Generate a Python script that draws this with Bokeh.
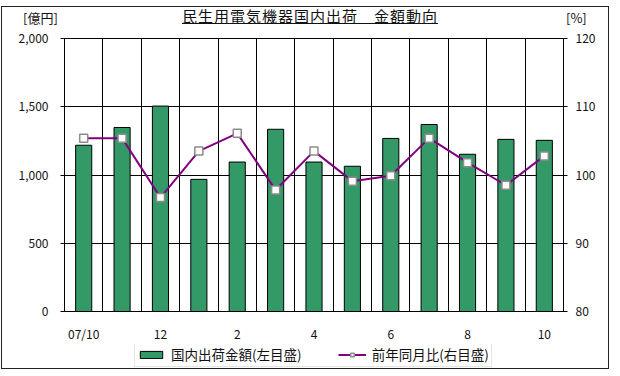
from bokeh.plotting import figure
from bokeh.models import (Range1d, LinearAxis, FixedTicker, Legend, LegendItem,
                          Div, NumeralTickFormatter, ColumnDataSource)
from bokeh.layouts import column
from bokeh.embed import file_html
from bokeh.resources import INLINE

months = ["07/10", "11", "12", "1", "2", "3", "4", "5", "6", "7", "8", "9", "10"]
amount = [1218, 1348, 1505, 968, 1095, 1335, 1095, 1064, 1268, 1370, 1152, 1261, 1254]
yoy = [105.4, 105.4, 96.7, 103.5, 106.1, 97.8, 103.5, 99.1, 99.9, 105.4, 101.8, 98.5, 102.8]
label_every = 2
title_text = "民生用電気機器国内出荷\u3000金額動向"
left_unit = "[億円]"
right_unit = "[%]"
bar_name = "国内出荷金額(左目盛)"
line_name = "前年同月比(右目盛)"

FONT = "Noto Sans CJK JP"
TXT = "#111111"
BAR_STYLE = dict(fill_color="#339966", line_color="black", line_width=1)
LINE_STYLE = dict(line_color="#800080", line_width=2)
MARK_STYLE = dict(marker="square", size=8, fill_color="white", line_color="#8c8c8c", line_width=1.5)

idx = list(range(len(months)))
src = ColumnDataSource(dict(x=idx, amount=amount, yoy=yoy))

p = figure(frame_width=499, frame_height=273, output_backend="svg", toolbar_location=None,
           x_range=Range1d(-0.5, len(months) - 0.5), y_range=Range1d(0, 2000),
           min_border_left=62, min_border_right=45, min_border_top=10, min_border_bottom=31)
p.extra_y_ranges = {"pct": Range1d(80, 120)}

# grid
p.xgrid.ticker = FixedTicker(ticks=[i + 0.5 for i in idx[:-1]])
p.xgrid.grid_line_color = "black"
p.ygrid.ticker = FixedTicker(ticks=[0, 500, 1000, 1500, 2000])
p.ygrid.grid_line_color = "black"
p.outline_line_color = "black"

# left axis
ya = p.yaxis[0]
ya.ticker = FixedTicker(ticks=[0, 500, 1000, 1500, 2000])
ya.formatter = NumeralTickFormatter(format="0,0")
ya.major_tick_out = 4
ya.major_tick_in = 0
ya.minor_tick_line_color = None
ya.major_label_standoff = 12
ya.axis_line_color = "black"

# right axis
ra = LinearAxis(y_range_name="pct", ticker=FixedTicker(ticks=[80, 90, 100, 110, 120]))
ra.major_tick_out = 4
ra.major_tick_in = 0
ra.minor_tick_line_color = None
ra.major_label_standoff = 8
p.add_layout(ra, "right")

# x axis
xa = p.xaxis[0]
xa.ticker = FixedTicker(ticks=idx[::label_every])
xa.major_label_overrides = {i: months[i] for i in idx[::label_every]}
xa.major_tick_line_color = None
xa.major_tick_out = 0
xa.major_tick_in = 0
xa.minor_tick_line_color = None
xa.minor_tick_out = 0
xa.major_label_standoff = 13
xa.axis_line_color = "black"

for ax in (ya, ra, xa):
    ax.major_label_text_font = FONT
    ax.major_label_text_font_size = "12px"
    ax.major_label_text_color = TXT

p.vbar(x="x", top="amount", source=src, width=0.42, **BAR_STYLE)
p.line(x="x", y="yoy", source=src, y_range_name="pct", **LINE_STYLE)
p.scatter(x="x", y="yoy", source=src, y_range_name="pct", **MARK_STYLE)

# legend strip: its own canvas (the main frame would clip it); the data lies outside
# this strip's ranges, so only the legend itself is drawn here
lg = figure(frame_width=499, frame_height=24, output_backend="svg", toolbar_location=None,
            x_range=Range1d(1000, 1001), y_range=Range1d(10000, 10001),
            min_border_left=62, min_border_right=45, min_border_top=0, min_border_bottom=0,
            x_axis_location=None, y_axis_location=None, outline_line_color=None)
lg.grid.visible = False
lb = lg.vbar(x="x", top="amount", source=src, width=0.42, **BAR_STYLE)
ll = lg.line(x="x", y="yoy", source=src, **LINE_STYLE)
lm = lg.scatter(x="x", y="yoy", source=src, **MARK_STYLE)
legend = Legend(items=[LegendItem(label=bar_name, renderers=[lb]),
                       LegendItem(label=line_name, renderers=[ll, lm])],
                orientation="horizontal", location=(70, 1),
                label_text_font=FONT, label_text_font_size="13.5px", label_text_color=TXT,
                label_height=13, glyph_width=28, glyph_height=9, spacing=36, padding=2,
                margin=0, label_standoff=6, border_line_color="#cccccc",
                background_fill_alpha=1)
lg.add_layout(legend, "center")

header_html = (
    f'<div style="position:relative;width:606px;height:21px;font-family:\'{FONT}\';color:{TXT};">'
    f'<span style="position:absolute;left:21px;top:3px;font-size:13px;line-height:16px;">{left_unit}</span>'
    f'<span style="position:absolute;left:0;width:616px;top:0px;text-align:center;font-size:15px;'
    f'letter-spacing:1px;line-height:18px;text-decoration:underline;">{title_text}</span>'
    f'<span style="position:absolute;left:564px;top:3px;font-size:13px;line-height:16px;">{right_unit}</span>'
    f'</div>'
)
header = Div(text=header_html, width=606, height=21, margin=0)

layout = column(header, p, lg, spacing=0)
layout.styles = {"margin-left": "1px", "margin-top": "6px", "border": "1px solid #222"}

open("out.html", "w").write(file_html(layout, INLINE))
